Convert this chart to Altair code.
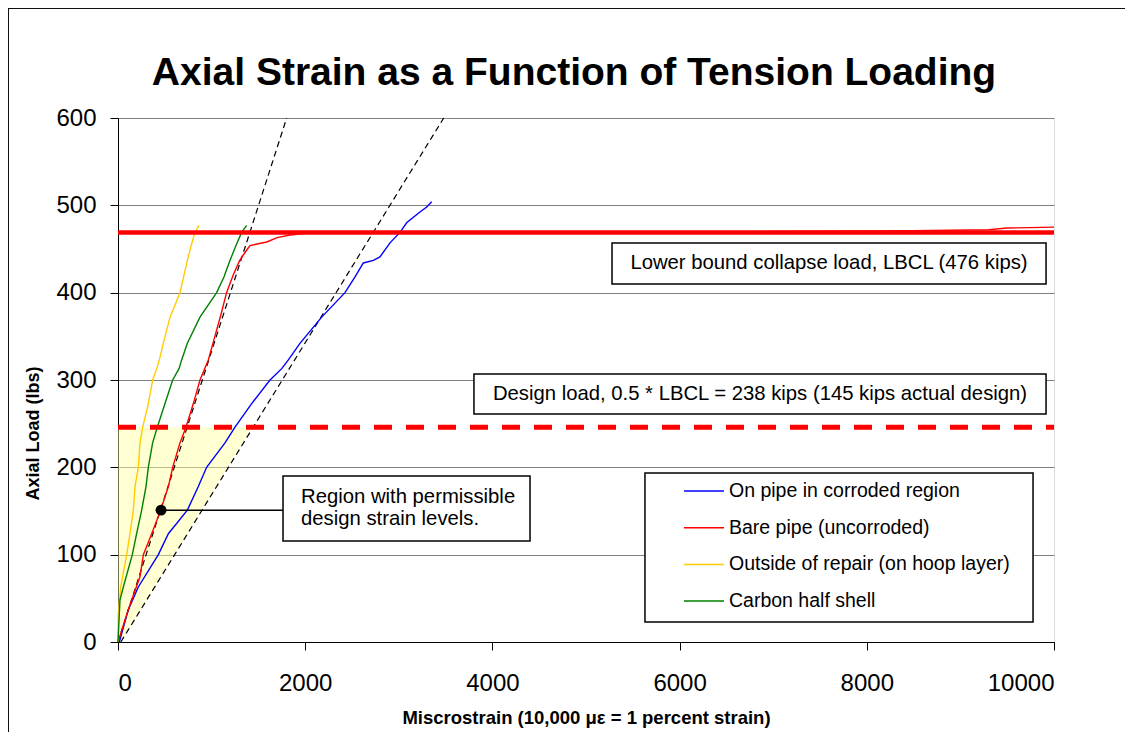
import altair as alt
import pandas as pd

FONT = "Liberation Sans"

# ---------------- text ----------------
title_text = "Axial Strain as a Function of Tension Loading"
x_title = "Miscrostrain (10,000 \u03bc\u03b5 = 1 percent strain)"
y_title = "Axial Load (lbs)"

x_ticks = [0, 2000, 4000, 6000, 8000, 10000]
y_ticks = [0, 100, 200, 300, 400, 500, 600]

series_names = [
    "On pipe in corroded region",
    "Bare pipe (uncorroded)",
    "Outside of repair (on hoop layer)",
    "Carbon half shell",
]
series_colors = ["#0000FF", "#FF0000", "#FFCC00", "#008000"]

# ---------------- measured curves (microstrain, load) ----------------
blue_strain = [14, 110, 217, 431, 538, 741, 858, 947, 1143, 1250, 1428, 1624, 1749, 1820,
               1944, 2176, 2425, 2532, 2621, 2728, 2799, 2906, 3013, 3084, 3209, 3298, 3351]
blue_load = [0, 37, 63, 100, 124, 151, 178, 200, 228, 246, 273, 300, 313, 323,
             342, 372, 400, 418, 434, 437, 441, 457, 469, 480, 491, 498, 504]

red_strain = [0, 110, 235, 271, 360, 456, 538, 584, 662, 726, 805, 876, 965, 1035, 1100, 1160,
              1230, 1300, 1370, 1410, 1500, 1590, 1700, 1840, 2000, 3000, 5000, 7000, 8500,
              9300, 9500, 10000]
red_load = [0, 37, 75, 100, 124, 151, 178, 200, 228, 246, 273, 300, 323, 350, 375, 400,
            420, 437, 448, 454, 456, 458, 463, 466, 468, 469, 469, 470, 471,
            472, 474, 475]

yellow_strain = [0, 3, 29, 93, 128, 164, 182, 217, 235, 264, 324, 370, 413, 442, 484, 556,
                 662, 741, 787, 823, 865]
yellow_load = [0, 31, 63, 100, 124, 151, 178, 200, 228, 246, 273, 300, 313, 323, 342, 372,
               400, 437, 456, 469, 477]

green_strain = [0, 21, 57, 153, 199, 253, 299, 324, 370, 420, 502, 584, 652, 680, 741, 876,
                1054, 1132, 1197, 1268, 1321, 1375]
green_load = [0, 48, 63, 100, 124, 151, 178, 200, 228, 246, 273, 300, 313, 323, 342, 372,
              400, 418, 437, 456, 469, 477]

# dashed linear-elastic reference lines (strain, load end points)
ref1_strain = [0, 1802]
ref1_load = [0, 600]
ref2_strain = [30, 3480]
ref2_load = [0, 600]

lbcl_load = 469
design_load = 246
region_strain = [30, 1430]
region_load = [0, 246]
dot_strain = [460]
dot_load = [151]

# ---------------- tables ----------------
rows = []
for name, xs, ys in zip(series_names,
                        [blue_strain, red_strain, yellow_strain, green_strain],
                        [blue_load, red_load, yellow_load, green_load]):
    for i, (xv, yv) in enumerate(zip(xs, ys)):
        rows.append({"series": name, "strain": xv, "load": yv, "order": i})
curves = pd.DataFrame(rows)

ref_rows = []
for rid, xs, ys in [("a", ref1_strain, ref1_load), ("b", ref2_strain, ref2_load)]:
    for i, (xv, yv) in enumerate(zip(xs, ys)):
        ref_rows.append({"rid": rid, "strain": xv, "load": yv, "order": i})
refs = pd.DataFrame(ref_rows)

region = pd.DataFrame({"strain": region_strain, "load": region_load, "zero": [0, 0]})
hlines = pd.DataFrame({"x0": [0, 0], "x1": [10000, 10000],
                       "load": [lbcl_load, design_load], "kind": ["lbcl", "design"]})
dot = pd.DataFrame({"strain": dot_strain, "load": dot_load})

# annotation boxes (data coordinates)
boxes = pd.DataFrame({
    "x0": [5278, 3803, 1763, 5630],
    "x1": [9915, 9915, 4402, 9776],
    "y0": [410, 261, 115.6, 22.9],
    "y1": [457, 307, 190, 193.5],
})
box_texts = pd.DataFrame({
    "x": [7596, 6859],
    "y": [433.4, 284],
    "text": ["Lower bound collapse load, LBCL (476 kips)",
             "Design load, 0.5 * LBCL = 238 kips (145 kips actual design)"],
})
region_text = pd.DataFrame({
    "x": [1955, 1955],
    "y": [166, 141],
    "text": ["Region with permissible", "design strain levels."],
})
connector = pd.DataFrame({"x0": dot_strain, "x1": [1763], "load": dot_load})
title_df = pd.DataFrame({"text": [title_text]})

# ---------------- scales/axes ----------------
xs_ = alt.Scale(domain=[0, 10000], nice=False)
ys_ = alt.Scale(domain=[0, 600], nice=False)

x_axis = alt.Axis(values=x_ticks, format="d", title=x_title, grid=False,
                  tickSize=8, tickColor="black", domainColor="black",
                  labelFont=FONT, labelFontSize=24, labelColor="black", labelPadding=21,
                  titleFont=FONT, titleFontSize=18.5, titleFontWeight="bold",
                  titleColor="black", titlePadding=13)
y_axis = alt.Axis(values=y_ticks, format="d", title=y_title, grid=True,
                  gridColor="#808080", gridWidth=1,
                  tickSize=8, tickColor="black", domainColor="black",
                  labelFont=FONT, labelFontSize=24, labelColor="black", labelPadding=14,
                  titleFont=FONT, titleFontSize=18, titleFontWeight="bold",
                  titleColor="black", titleX=-85, titleY=315, titleBaseline="middle")


def X(field):
    return alt.X(field, type="quantitative", scale=xs_, axis=x_axis)


def Y(field):
    return alt.Y(field, type="quantitative", scale=ys_, axis=y_axis)


region_layer = alt.Chart(region).mark_area(
    orient="horizontal", color="#FFFF99", opacity=0.45
).encode(y=Y("load"), x=X("strain"), x2="zero")

ref_layer = alt.Chart(refs).mark_line(
    color="black", strokeWidth=1.2, strokeDash=[6, 4]
).encode(x=X("strain"), y=Y("load"), detail="rid", order="order")

curve_layer = alt.Chart(curves).mark_line(strokeWidth=1.4).encode(
    x=X("strain"), y=Y("load"), order="order",
    color=alt.Color("series:N",
                    scale=alt.Scale(domain=series_names, range=series_colors),
                    legend=alt.Legend(orient="none", legendX=565, legendY=363,
                                      title=None, symbolType="stroke",
                                      symbolSize=1600, symbolStrokeWidth=1.5,
                                      labelFont=FONT, labelFontSize=19.5,
                                      labelColor="black", labelOffset=4,
                                      labelLimit=500,
                                      clipHeight=20, rowPadding=16.7, padding=0)),
)

lbcl_layer = alt.Chart(hlines[hlines.kind == "lbcl"]).mark_rule(
    color="#FF0000", strokeWidth=4.5
).encode(x=X("x0"), x2="x1", y=Y("load"))

design_layer = alt.Chart(hlines[hlines.kind == "design"]).mark_rule(
    color="#FF0000", strokeWidth=5, strokeDash=[18, 14]
).encode(x=X("x0"), x2="x1", y=Y("load"))

conn_layer = alt.Chart(connector).mark_rule(color="black", strokeWidth=1.5).encode(
    x=X("x0"), x2="x1", y=Y("load"))
dot_layer = alt.Chart(dot).mark_point(
    filled=True, color="black", size=120, opacity=1
).encode(x=X("strain"), y=Y("load"))

box_layer = alt.Chart(boxes).mark_rect(
    fill="white", stroke="black", strokeWidth=1.5
).encode(x=X("x0"), x2="x1", y=Y("y0"), y2="y1")

box_text_layer = alt.Chart(box_texts).mark_text(
    font=FONT, fontSize=20.3, color="black", align="center", baseline="middle"
).encode(x=X("x"), y=Y("y"), text="text")

region_text_layer = alt.Chart(region_text).mark_text(
    font=FONT, fontSize=20.3, color="black", align="left", baseline="middle"
).encode(x=X("x"), y=Y("y"), text="text")

# chart title, placed in the chart area above the plot
title_layer = alt.Chart(title_df).mark_text(
    font=FONT, fontSize=39, fontWeight="bold", color="black",
    align="center", baseline="alphabetic"
).encode(x=alt.value(456), y=alt.value(-33), text="text")

# outer chart-area border (left and top edges visible in the reference)
frame_left = alt.Chart(region).mark_rule(color="black", strokeWidth=1.5).encode(
    x=alt.value(-110), y=alt.value(-110), y2=alt.value(800))
frame_top = alt.Chart(region).mark_rule(color="black", strokeWidth=1.5).encode(
    x=alt.value(-110), x2=alt.value(1200), y=alt.value(-110))

chart = alt.layer(
    region_layer, ref_layer, curve_layer, lbcl_layer, design_layer,
    conn_layer, dot_layer, box_layer, box_text_layer, region_text_layer,
    title_layer, frame_left, frame_top,
).properties(
    width=936, height=524,
    padding={"left": 110, "top": 110, "right": 71, "bottom": 90},
    autosize=alt.AutoSizeParams(type="none"),
).configure_view(stroke="#808080", strokeWidth=1).configure(background="white")

chart.save("out.html", embed_options={"renderer": "svg", "actions": False})
